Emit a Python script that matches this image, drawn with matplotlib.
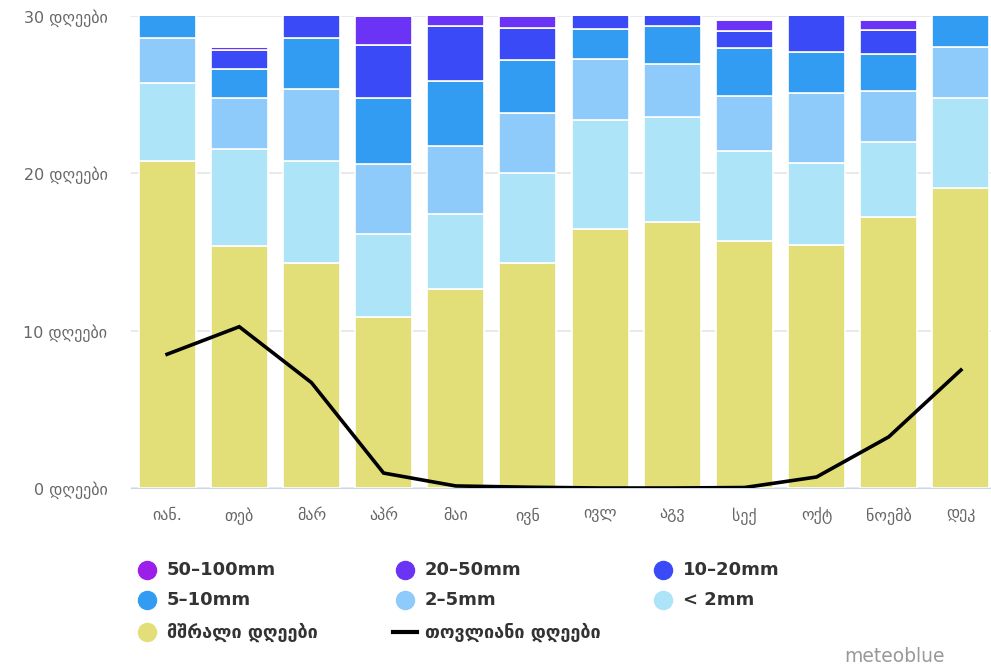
import matplotlib
matplotlib.use("Agg")
import matplotlib.pyplot as plt
from matplotlib.lines import Line2D
import numpy as np

months = ["იან.", "თებ", "მარ", "აპრ", "მაი", "ივნ", "ივლ", "აგვ", "სექ", "ოქტ", "ნოემბ", "დეკ"]

dry = [20.8, 15.4, 14.3, 10.9, 12.65, 14.3, 16.45, 16.9, 15.7, 15.45, 17.2, 19.05]
lt2 = [4.95, 6.15, 6.5, 5.25, 4.75, 5.7, 6.95, 6.7, 5.7, 5.2, 4.8, 5.75]
mm2_5 = [2.85, 3.25, 4.55, 4.45, 4.35, 3.85, 3.85, 3.35, 3.5, 4.45, 3.25, 3.25]
mm5_10 = [2.0, 1.8, 3.25, 4.2, 4.15, 3.35, 1.95, 2.4, 3.05, 2.6, 2.35, 2.5]
mm10_20 = [0.4, 1.25, 1.7, 3.35, 3.45, 2.05, 1.5, 1.6, 1.1, 2.5, 1.5, 0.45]
mm20_50 = [0.0, 0.15, 0.0, 1.85, 0.9, 0.75, 0.05, 0.05, 0.7, 0.1, 0.65, 0.0]
mm50_100 = [0.0, 0.0, 0.0, 0.0, 0.05, 0.0, 0.0, 0.0, 0.0, 0.0, 0.0, 0.0]
snow = [8.5, 10.25, 6.7, 0.95, 0.13, 0.05, 0.0, 0.0, 0.03, 0.7, 3.25, 7.5]

series = [
    ("მშრალი დღეები", dry, "#e3df78"),
    ("< 2mm", lt2, "#ade4f7"),
    ("2–5mm", mm2_5, "#8ecafa"),
    ("5–10mm", mm5_10, "#329cf2"),
    ("10–20mm", mm10_20, "#3a4af6"),
    ("20–50mm", mm20_50, "#6a33f5"),
    ("50–100mm", mm50_100, "#9b1fe8"),
]

fig = plt.figure(figsize=(9.91, 6.71), dpi=100)
ax = fig.add_axes([131 / 991, 1 - 488 / 671, 866 / 991, 472 / 671])

x = np.arange(len(months))
bottom = np.zeros(len(months))
for name, vals, col in series:
    ax.bar(x, vals, width=0.79, bottom=bottom, color=col, edgecolor="white", linewidth=1.2, zorder=2)
    bottom += np.array(vals)

ax.plot(x, snow, color="black", lw=2.6, zorder=3, solid_joinstyle="miter")

ax.set_xlim(-0.5, 11.5)
ax.set_ylim(0, 30)
ax.set_yticks([0, 10, 20, 30])
ax.set_yticklabels([f"{v} დღეები" for v in [0, 10, 20, 30]], fontsize=11.5, color="#666666")
ax.set_xticks(x)
ax.set_xticklabels(months, fontsize=11.5, color="#666666")
ax.tick_params(axis="both", length=0)
ax.tick_params(axis="y", pad=17)
ax.tick_params(axis="x", pad=14)
ax.grid(axis="y", color="#e6e6e6", lw=1.2, zorder=0)
for s in ["top", "right", "left"]:
    ax.spines[s].set_visible(False)
ax.spines["bottom"].set_color("#ccd6eb")
ax.set_axisbelow(True)

# legend laid out row-wise like the original
order = ["50–100mm", "20–50mm", "10–20mm", "5–10mm", "2–5mm", "< 2mm", "მშრალი დღეები", "თოვლიანი დღეები"]
colors = {n: c for n, _, c in series}
col_x = [147, 405, 663]
row_y = [570, 600, 632]
for i, name in enumerate(order):
    r, c = divmod(i, 3)
    px, py = col_x[c] / 991, 1 - row_y[r] / 671
    if name in colors:
        fig.add_artist(Line2D([px], [py], marker="o", markersize=13, color=colors[name],
                              linestyle="none", transform=fig.transFigure))
    else:
        fig.add_artist(Line2D([px - 12 / 991, px + 12 / 991], [py, py], color="black", lw=3,
                              transform=fig.transFigure))
    fig.text(px + 20 / 991, py, name, fontsize=13, fontweight="bold", color="#333333",
             va="center", ha="left")

fig.text(945 / 991, 1 - 657 / 671, "meteoblue", fontsize=13.5, color="#999999", ha="right", va="center")

fig.savefig("out.png", dpi=100)
